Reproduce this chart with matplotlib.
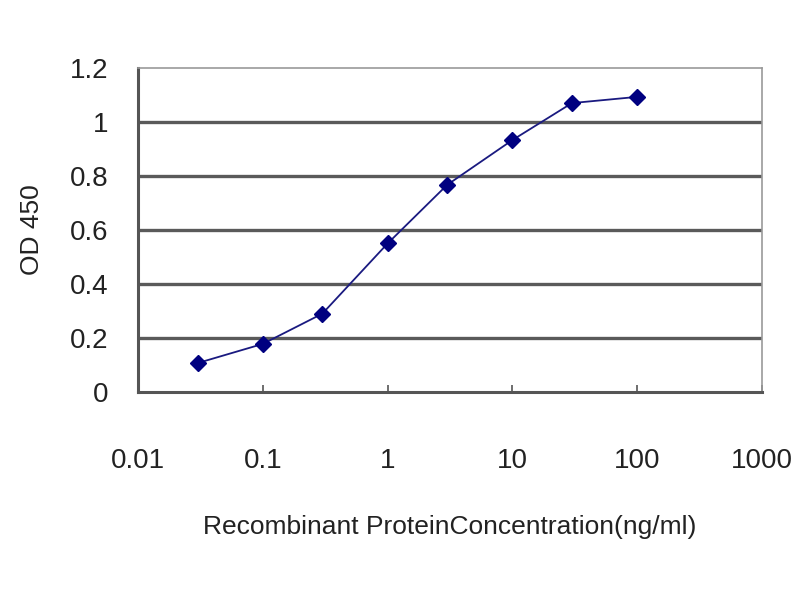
import matplotlib.pyplot as plt
from matplotlib.ticker import FixedLocator, FixedFormatter, NullLocator

# values
conc = [0.03, 0.1, 0.3, 1, 3, 10, 30, 100]
od450 = [0.107, 0.178, 0.29, 0.55, 0.767, 0.933, 1.07, 1.093]
xticks = [0.01, 0.1, 1, 10, 100, 1000]
xtick_labels = ['0.01', '0.1', '1', '10', '100', '1000']
yticks = [0, 0.2, 0.4, 0.6, 0.8, 1.0, 1.2]
ytick_labels = ['0', '0.2', '0.4', '0.6', '0.8', '1', '1.2']

plt.rcParams['font.family'] = ['Liberation Sans', 'DejaVu Sans']

fig = plt.figure(figsize=(8, 6), dpi=100)
ax = fig.add_axes([0.1725, 0.3467, 0.78, 0.54])

for y in yticks[1:-1]:
    ax.axhline(y, color='#5a5a5a', linewidth=2.4, zorder=1)

ax.plot(conc, od450, color='#1a1a80', linewidth=1.3, marker='D', markersize=8,
        markerfacecolor='#000080', markeredgecolor='#000080', zorder=3)

ax.set_xscale('log')
ax.set_xlim(0.01, 1000)
ax.set_ylim(0, 1.2)
ax.xaxis.set_major_locator(FixedLocator(xticks))
ax.xaxis.set_major_formatter(FixedFormatter(xtick_labels))
ax.xaxis.set_minor_locator(NullLocator())
ax.set_yticks(yticks)
ax.set_yticklabels(ytick_labels)

ax.tick_params(axis='x', direction='in', length=5, width=1.2, color='#555555',
               labelsize=20, pad=40, labelcolor='#222222')
ax.tick_params(axis='y', length=0, labelsize=20, pad=21, labelcolor='#222222')

for side in ['left', 'bottom']:
    ax.spines[side].set_color('#555555')
    ax.spines[side].set_linewidth(2.2)
for side in ['top', 'right']:
    ax.spines[side].set_color('#999999')
    ax.spines[side].set_linewidth(1.2)

ax.set_xlabel('Recombinant ProteinConcentration(ng/ml)', fontsize=19, labelpad=30, color='#222222')
ax.set_ylabel('OD 450', fontsize=19, labelpad=19, color='#222222')

plt.savefig('out.png', dpi=100)
